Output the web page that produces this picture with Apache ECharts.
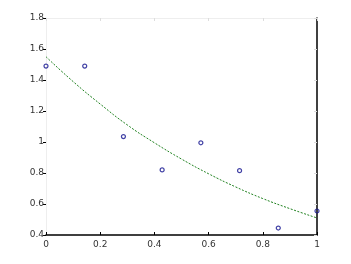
<!DOCTYPE html>
<html><head><meta charset="utf-8">
<script src="https://cdn.jsdelivr.net/npm/echarts@6/dist/echarts.min.js"></script>
<style>html,body{margin:0;padding:0;background:#fff}#c{width:351px;height:264px}</style>
</head><body><div id="c"></div>
<script>
var pointX = [0, 0.142857, 0.285714, 0.428571, 0.571429, 0.714286, 0.857143, 1];
var pointY = [1.49, 1.49, 1.035, 0.82, 0.995, 0.815, 0.445, 0.555];
var fitX = [0, 0.1, 0.2, 0.3, 0.4, 0.5, 0.6, 0.7, 0.8, 0.9, 1];
var fitY = [1.55, 1.39, 1.245, 1.11, 0.995, 0.89, 0.795, 0.71, 0.635, 0.57, 0.51];
var xTicks = [0, 0.2, 0.4, 0.6, 0.8, 1];
var yTicks = [0.4, 0.6, 0.8, 1, 1.2, 1.4, 1.6, 1.8];

function pairs(xs, ys){ return xs.map(function(x,i){return [x, ys[i]];}); }
var fmt = function(v){ return String(Math.round(v*10)/10); };
var chart = echarts.init(document.getElementById('c'), null, {renderer:'canvas'});
var lbl = {fontSize:9, color:'#333', fontFamily:'DejaVu Sans'};
chart.setOption({
  animation:false,
  grid:{left:46, right:34, top:18, bottom:29, containLabel:false},
  xAxis:[
    {type:'value', min:0, max:1, interval:0.2, position:'bottom',
     axisLine:{show:true, onZero:false, lineStyle:{color:'#000', width:1.5}},
     axisTick:{show:true, inside:true, length:3, lineStyle:{color:'#000'}},
     axisLabel:Object.assign({margin:5, formatter:fmt}, lbl),
     splitLine:{show:false}},
    {type:'value', min:0, max:1, interval:0.2, position:'top',
     axisLine:{show:true, onZero:false, lineStyle:{color:'#eeeeee', width:1}},
     axisTick:{show:true, inside:true, length:3, lineStyle:{color:'#dddddd'}},
     axisLabel:{show:false}, splitLine:{show:false}}
  ],
  yAxis:[
    {type:'value', min:0.4, max:1.8, interval:0.2, position:'left',
     axisLine:{show:true, onZero:false, lineStyle:{color:'#eeeeee', width:1}},
     axisTick:{show:true, inside:false, length:3, lineStyle:{color:'#000'}},
     axisLabel:Object.assign({margin:2, formatter:fmt}, lbl),
     splitLine:{show:false}},
    {type:'value', min:0.4, max:1.8, interval:0.2, position:'right',
     axisLine:{show:true, onZero:false, lineStyle:{color:'#000', width:1.5}},
     axisTick:{show:true, inside:true, length:3, lineStyle:{color:'#dddddd'}},
     axisLabel:{show:false}, splitLine:{show:false}}
  ],
  series:[
    {type:'line', data:pairs(fitX, fitY), smooth:true, showSymbol:false,
     lineStyle:{color:'#1f801f', width:1, type:[2,1.5]}, z:2},
    {type:'scatter', data:pairs(pointX, pointY), symbol:'circle', symbolSize:4,
     itemStyle:{color:'rgba(255,255,255,0)', borderColor:'#12128f', borderWidth:1.2}, z:3}
  ]
});
</script></body></html>
